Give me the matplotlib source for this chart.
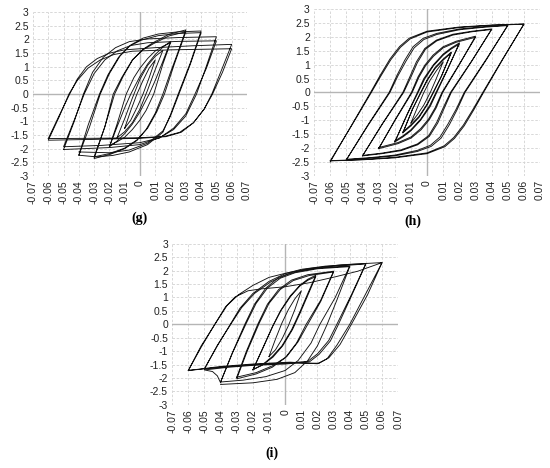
import numpy as np
import matplotlib.pyplot as plt

plt.rcParams['font.family'] = ['Liberation Sans', 'DejaVu Sans']
plt.rcParams['axes.unicode_minus'] = False

# ticks
xtick_vals = [-0.07, -0.06, -0.05, -0.04, -0.03, -0.02, -0.01, 0, 0.01, 0.02, 0.03, 0.04, 0.05, 0.06, 0.07]
xtick_labels = ['-0.07', '-0.06', '-0.05', '-0.04', '-0.03', '-0.02', '-0.01', '0',
                '0.01', '0.02', '0.03', '0.04', '0.05', '0.06', '0.07']
ytick_vals = [-3, -2.5, -2, -1.5, -1, -0.5, 0, 0.5, 1, 1.5, 2, 2.5, 3]
ytick_labels = ['-3', '-2.5', '-2', '-1.5', '-1', '-0.5', '0', '0.5', '1', '1.5', '2', '2.5', '3']

# ---- panel (g): loops, (x, y) points along the path ----
g_a01 = [(-0.010, -1.25), (-0.006, -0.60), (-0.002, 0.00), (0.002, 0.50), (0.006, 0.95), (0.010, 1.25),
         (0.006, 0.60), (0.002, 0.00), (-0.002, -0.50), (-0.006, -0.95), (-0.010, -1.25)]
g_a015 = [(-0.015, -1.60), (-0.010, -0.90), (-0.005, -0.15), (0.000, 0.55), (0.005, 1.05), (0.010, 1.38),
          (0.015, 1.60), (0.010, 0.90), (0.005, 0.15), (0.000, -0.55), (-0.005, -1.05), (-0.010, -1.38),
          (-0.015, -1.60)]
g_a02 = [(-0.020, -1.93), (-0.015, -1.20), (-0.010, -0.50), (-0.006, 0.00), (0.000, 0.65), (0.005, 1.10),
         (0.010, 1.45), (0.015, 1.72), (0.020, 1.93), (0.015, 1.20), (0.010, 0.50), (0.006, 0.00),
         (0.000, -0.65), (-0.005, -1.10), (-0.010, -1.45), (-0.015, -1.72), (-0.020, -1.93),
         (-0.015, -1.10), (-0.012, -0.55), (-0.009, 0.00), (-0.004, 0.60), (0.000, 0.95), (0.005, 1.30),
         (0.010, 1.58), (0.015, 1.75), (0.020, 1.88), (0.015, 1.10), (0.012, 0.55), (0.009, 0.00),
         (0.004, -0.60), (0.000, -0.95), (-0.005, -1.30), (-0.010, -1.58), (-0.015, -1.75), (-0.020, -1.88)]
g_a03 = [(-0.030, -2.30), (-0.023, -1.20), (-0.0166, 0.00), (-0.011, 0.65), (-0.0046, 1.27), (0.002, 1.64),
         (0.0085, 1.88), (0.019, 2.19), (0.030, 2.35), (0.024, 1.40), (0.020, 0.80), (0.015, 0.00),
         (0.010, -0.70), (0.004, -1.30), (-0.002, -1.70), (-0.010, -2.00), (-0.020, -2.22), (-0.030, -2.36),
         (-0.023, -1.20), (-0.0175, 0.00), (-0.012, 0.60), (-0.005, 1.25), (0.002, 1.62), (0.009, 1.85),
         (0.019, 2.13), (0.030, 2.28), (0.0225, 1.10), (0.016, 0.00), (0.011, -0.65), (0.005, -1.25),
         (-0.002, -1.68), (-0.010, -1.98), (-0.020, -2.18), (-0.030, -2.30)]
g_a04 = [(-0.040, -2.24), (-0.033, -1.20), (-0.026, 0.00), (-0.020, 0.75), (-0.013, 1.40), (-0.006, 1.80),
         (0.002, 2.05), (0.012, 2.20), (0.025, 2.28), (0.040, 2.31), (0.033, 1.15), (0.025, 0.00),
         (0.020, -0.75), (0.015, -1.40), (0.005, -1.85), (-0.007, -2.12), (-0.018, -2.25), (-0.0285, -2.30),
         (-0.040, -2.24), (-0.034, -1.15), (-0.0265, 0.00), (-0.021, 0.70), (-0.014, 1.35), (-0.007, 1.75),
         (0.001, 1.98), (0.012, 2.14), (0.025, 2.22), (0.040, 2.25), (0.033, 1.10), (0.0255, 0.00),
         (0.020, -0.80), (0.015, -1.35), (0.005, -1.80), (-0.007, -2.05), (-0.020, -2.15), (-0.040, -2.12)]
g_a05 = [(-0.050, -2.03), (-0.043, -1.00), (-0.037, 0.00), (-0.031, 0.80), (-0.024, 1.35), (-0.016, 1.70),
         (-0.007, 1.92), (0.005, 2.02), (0.025, 2.07), (0.050, 2.10), (0.043, 0.95), (0.037, 0.00),
         (0.030, -0.80), (0.022, -1.30), (0.013, -1.60), (0.000, -1.78), (-0.025, -1.88), (-0.050, -1.93),
         (-0.043, -0.95), (-0.0365, 0.00), (-0.030, 0.75), (-0.023, 1.25), (-0.015, 1.58), (-0.006, 1.78),
         (0.005, 1.88), (0.025, 1.93), (0.050, 1.95), (0.0435, 0.95), (0.036, 0.00), (0.030, -0.72),
         (0.022, -1.25), (0.013, -1.60), (0.000, -1.85), (-0.020, -1.96), (-0.050, -2.03)]
g_a06 = [(-0.060, -1.63), (-0.053, -0.80), (-0.046, 0.00), (-0.041, 0.55), (-0.035, 1.00), (-0.028, 1.30),
         (-0.020, 1.50), (-0.010, 1.62), (0.010, 1.70), (0.035, 1.77), (0.060, 1.82), (0.0535, 0.90),
         (0.047, 0.00), (0.042, -0.55), (0.035, -1.05), (0.027, -1.40), (0.017, -1.56), (0.000, -1.62),
         (-0.030, -1.66), (-0.060, -1.69), (-0.053, -0.85), (-0.0465, 0.00), (-0.041, 0.50), (-0.034, 0.95),
         (-0.026, 1.25), (-0.017, 1.45), (-0.005, 1.57), (0.020, 1.62), (0.060, 1.66), (0.054, 0.80),
         (0.0475, 0.00), (0.042, -0.55), (0.035, -1.05), (0.026, -1.40), (0.016, -1.55), (0.000, -1.60),
         (-0.030, -1.62), (-0.060, -1.63)]

# ---- panel (h) ----
h_a01 = [(-0.010, -1.10), (-0.005, -0.40), (-0.002, 0.00), (0.002, 0.45), (0.006, 0.80), (0.010, 1.10),
         (0.005, 0.40), (0.002, 0.00), (-0.002, -0.45), (-0.006, -0.80), (-0.010, -1.10)]
h_a015 = [(-0.015, -1.45), (-0.009, -0.60), (-0.004, 0.00), (0.000, 0.45), (0.005, 0.90), (0.010, 1.20),
          (0.015, 1.45), (0.009, 0.60), (0.004, 0.00), (0.000, -0.45), (-0.005, -0.90), (-0.010, -1.20),
          (-0.015, -1.45), (-0.0088, -0.57), (-0.0037, 0.00), (0.000, 0.42), (0.005, 0.86), (0.010, 1.16),
          (0.015, 1.42), (0.0088, 0.57), (0.0037, 0.00), (0.000, -0.42), (-0.005, -0.86), (-0.010, -1.16),
          (-0.015, -1.42)]
h_a02 = [(-0.020, -1.78), (-0.0125, -0.80), (-0.006, 0.00), (-0.002, 0.50), (0.004, 1.00), (0.010, 1.38),
         (0.015, 1.60), (0.020, 1.78), (0.0125, 0.80), (0.006, 0.00), (0.002, -0.50), (-0.004, -1.00),
         (-0.010, -1.38), (-0.015, -1.60), (-0.020, -1.78), (-0.012, -0.76), (-0.0055, 0.00), (-0.0015, 0.48),
         (0.004, 0.96), (0.010, 1.34), (0.015, 1.56), (0.020, 1.74), (0.012, 0.76), (0.0055, 0.00),
         (0.0015, -0.48), (-0.004, -0.96), (-0.010, -1.34), (-0.015, -1.56), (-0.020, -1.74)]
h_a03 = [(-0.030, -2.02), (-0.020, -1.00), (-0.0097, 0.00), (-0.0056, 0.56), (-0.0014, 0.98), (0.0037, 1.34),
         (0.0099, 1.64), (0.018, 1.84), (0.030, 2.02), (0.020, 1.00), (0.0097, 0.00), (0.0056, -0.56),
         (0.0014, -0.98), (-0.0037, -1.34), (-0.0099, -1.64), (-0.018, -1.84), (-0.030, -2.02),
         (-0.0195, -0.97), (-0.0092, 0.00), (-0.005, 0.55), (-0.001, 0.95), (0.004, 1.30), (0.010, 1.60),
         (0.018, 1.80), (0.030, 1.98), (0.0195, 0.97), (0.0092, 0.00), (0.005, -0.55), (0.001, -0.95),
         (-0.004, -1.30), (-0.010, -1.60), (-0.018, -1.80), (-0.030, -1.98)]
h_a04 = [(-0.040, -2.28), (-0.028, -1.15), (-0.015, 0.00), (-0.0107, 0.56), (-0.0066, 1.10), (-0.0014, 1.58),
         (0.0058, 1.88), (0.016, 2.09), (0.028, 2.20), (0.040, 2.28), (0.028, 1.15), (0.015, 0.00),
         (0.0107, -0.56), (0.0066, -1.10), (0.0014, -1.58), (-0.0058, -1.88), (-0.016, -2.09), (-0.028, -2.20),
         (-0.040, -2.28), (-0.0275, -1.12), (-0.0145, 0.00), (-0.010, 0.55), (-0.006, 1.07), (-0.001, 1.55),
         (0.006, 1.85), (0.016, 2.06), (0.028, 2.18), (0.040, 2.26), (0.0275, 1.12), (0.0145, 0.00),
         (0.010, -0.55), (0.006, -1.07), (0.001, -1.55), (-0.006, -1.85), (-0.016, -2.06), (-0.028, -2.18),
         (-0.040, -2.26)]
h_a05 = [(-0.050, -2.42), (-0.037, -1.20), (-0.0235, 0.00), (-0.0186, 0.62), (-0.0138, 1.16), (-0.0087, 1.64),
         (-0.0025, 1.94), (0.006, 2.12), (0.020, 2.28), (0.035, 2.36), (0.050, 2.42), (0.037, 1.20),
         (0.0235, 0.00), (0.0186, -0.62), (0.0138, -1.16), (0.0087, -1.64), (0.0025, -1.94), (-0.006, -2.12),
         (-0.020, -2.28), (-0.035, -2.36), (-0.050, -2.42), (-0.0365, -1.18), (-0.023, 0.00), (-0.018, 0.60),
         (-0.013, 1.13), (-0.008, 1.60), (-0.002, 1.90), (0.006, 2.08), (0.020, 2.25), (0.035, 2.34),
         (0.050, 2.40), (0.0365, 1.18), (0.023, 0.00), (0.018, -0.60), (0.013, -1.13), (0.008, -1.60),
         (0.002, -1.90), (-0.006, -2.08), (-0.020, -2.25), (-0.035, -2.34), (-0.050, -2.40)]
h_a06 = [(-0.060, -2.50), (-0.047, -1.20), (-0.035, 0.00), (-0.029, 0.62), (-0.023, 1.20), (-0.017, 1.65),
         (-0.011, 1.95), (0.000, 2.20), (0.020, 2.35), (0.040, 2.42), (0.060, 2.46), (0.047, 1.20),
         (0.035, 0.00), (0.029, -0.62), (0.023, -1.20), (0.017, -1.65), (0.011, -1.95), (0.000, -2.20),
         (-0.020, -2.35), (-0.040, -2.42), (-0.060, -2.46), (-0.0465, -1.17), (-0.0345, 0.00), (-0.0285, 0.60),
         (-0.0225, 1.17), (-0.0165, 1.62), (-0.0105, 1.92), (0.000, 2.17), (0.020, 2.33), (0.040, 2.41),
         (0.060, 2.45), (0.0465, 1.17), (0.0345, 0.00), (0.0285, -0.60), (0.0225, -1.17), (0.0165, -1.62),
         (0.0105, -1.92), (0.000, -2.17), (-0.020, -2.33), (-0.040, -2.41), (-0.060, -2.45)]

# ---- panel (i) ----
i_a01 = [(-0.010, -1.20), (-0.006, -0.55), (-0.002, 0.05), (0.002, 0.55), (0.006, 0.95), (0.010, 1.25),
         (0.006, 0.55), (0.002, -0.05), (-0.002, -0.55), (-0.006, -0.95), (-0.010, -1.20)]
i_a02 = [(-0.020, -1.70), (-0.014, -0.90), (-0.008, -0.10), (-0.003, 0.50), (0.003, 1.05), (0.009, 1.45),
         (0.014, 1.68), (0.019, 1.83), (0.014, 1.15), (0.009, 0.45), (0.004, -0.20), (-0.002, -0.80),
         (-0.008, -1.20), (-0.014, -1.50), (-0.020, -1.70), (-0.0135, -0.85), (-0.0075, -0.05),
         (-0.0025, 0.52), (0.0035, 1.05), (0.009, 1.42), (0.014, 1.64), (0.019, 1.78), (0.0145, 1.15),
         (0.0095, 0.45), (0.0045, -0.20), (-0.0015, -0.80), (-0.0075, -1.22), (-0.014, -1.52), (-0.020, -1.68)]
i_a03 = [(-0.030, -1.97), (-0.024, -1.00), (-0.017, 0.00), (-0.011, 0.75), (-0.004, 1.30), (0.004, 1.65),
         (0.014, 1.85), (0.030, 1.98), (0.022, 0.90), (0.013, 0.00), (0.007, -0.70), (0.000, -1.25),
         (-0.008, -1.60), (-0.018, -1.85), (-0.030, -2.03), (-0.0235, -1.00), (-0.016, 0.05), (-0.010, 0.78),
         (-0.003, 1.30), (0.005, 1.63), (0.015, 1.82), (0.030, 1.95), (0.022, 0.85), (0.014, 0.00),
         (0.008, -0.65), (0.001, -1.20), (-0.008, -1.55), (-0.018, -1.80), (-0.030, -1.97)]
i_a04 = [(-0.040, -2.15), (-0.033, -1.10), (-0.025, 0.00), (-0.019, 0.75), (-0.012, 1.35), (-0.004, 1.75),
         (0.005, 1.95), (0.020, 2.10), (0.040, 2.18), (0.031, 1.00), (0.0215, 0.00), (0.016, -0.70),
         (0.008, -1.35), (0.000, -1.72), (-0.012, -1.95), (-0.026, -2.08), (-0.040, -2.15), (-0.0325, -1.05),
         (-0.024, 0.05), (-0.018, 0.78), (-0.011, 1.35), (-0.003, 1.72), (0.006, 1.92), (0.020, 2.07),
         (0.040, 2.15), (0.032, 0.90), (0.026, 0.00), (0.020, -0.80), (0.014, -1.35), (0.006, -1.80),
         (-0.005, -2.05), (-0.020, -2.18), (-0.040, -2.24)]
i_a05 = [(-0.050, -1.66), (-0.042, -0.80), (-0.034, 0.00), (-0.028, 0.60), (-0.020, 1.15), (-0.010, 1.60),
         (0.000, 1.89), (0.010, 2.05), (0.025, 2.17), (0.050, 2.27), (0.041, 1.10), (0.032, 0.00),
         (0.027, -0.60), (0.020, -1.10), (0.014, -1.38), (0.000, -1.45), (-0.020, -1.50), (-0.035, -1.57),
         (-0.050, -1.66), (-0.042, -0.78), (-0.0335, 0.02), (-0.027, 0.62), (-0.019, 1.15), (-0.009, 1.58),
         (0.001, 1.85), (0.011, 2.02), (0.025, 2.14), (0.050, 2.25), (0.041, 1.05), (0.033, 0.00),
         (0.028, -0.62), (0.021, -1.12), (0.015, -1.40), (0.000, -1.48), (-0.020, -1.53), (-0.035, -1.60),
         (-0.050, -1.70), (-0.045, -1.76), (-0.042, -1.92), (-0.040, -2.18)]
i_a06 = [(-0.060, -1.72), (-0.052, -0.85), (-0.0436, 0.00), (-0.037, 0.65), (-0.031, 1.02), (-0.023, 1.25),
         (-0.015, 1.32), (0.000, 1.40), (0.015, 1.55), (0.031, 1.77), (0.045, 1.98), (0.060, 2.30),
         (0.050, 1.15), (0.040, 0.00), (0.032, -0.78), (0.026, -1.28), (0.020, -1.47), (0.003, -1.41),
         (-0.018, -1.47), (-0.040, -1.57), (-0.060, -1.72), (-0.052, -0.80), (-0.043, 0.05), (-0.036, 0.70),
         (-0.029, 1.10), (-0.020, 1.45), (-0.010, 1.75), (0.000, 1.90), (0.015, 2.08), (0.035, 2.22),
         (0.060, 2.30), (0.051, 1.10), (0.041, 0.00), (0.034, -0.75), (0.027, -1.25), (0.021, -1.45),
         (0.003, -1.44), (-0.018, -1.50), (-0.040, -1.60), (-0.060, -1.72)]


def panel(ax, loops):
    ax.set_xlim(-0.07, 0.07)
    ax.set_ylim(-3, 3)
    ax.set_xticks(xtick_vals, xtick_labels, rotation=90)
    ax.set_yticks(ytick_vals, ytick_labels)
    ax.tick_params(length=0, labelsize=7.5, labelcolor='#222222', pad=3)
    ax.grid(True, color='#d2d2d2', linestyle=(0, (3, 2)), linewidth=0.6)
    ax.set_axisbelow(True)
    for s in ax.spines.values():
        s.set_visible(False)
    ax.axhline(0, color='#b5b5b5', lw=1.0, zorder=1)
    ax.axvline(0, color='#b5b5b5', lw=1.0, zorder=1)
    for pts in loops:
        x, y = np.array(pts).T
        ax.plot(x, y, color='#111111', lw=0.65, zorder=3)


fig = plt.figure(figsize=(5.5, 4.68), dpi=100)

ax_g = fig.add_axes([0.060, 0.624, 0.389, 0.350])
panel(ax_g, [g_a01, g_a015, g_a02, g_a03, g_a04, g_a05, g_a06])

ax_h = fig.add_axes([0.571, 0.624, 0.411, 0.357])
panel(ax_h, [h_a01, h_a015, h_a02, h_a03, h_a04, h_a05, h_a06])

ax_i = fig.add_axes([0.313, 0.135, 0.411, 0.344])
panel(ax_i, [i_a01, i_a02, i_a03, i_a04, i_a05, i_a06])

lab = dict(ha='center', va='center', fontsize=10, family='Liberation Serif', weight='bold')
fig.text(140 / 550, 1 - 218 / 468, '(g)', **lab)
fig.text(413 / 550, 1 - 221 / 468, '(h)', **lab)
fig.text(272 / 550, 1 - 453 / 468, '(i)', **lab)

fig.savefig('out.png', dpi=100, facecolor='white')
